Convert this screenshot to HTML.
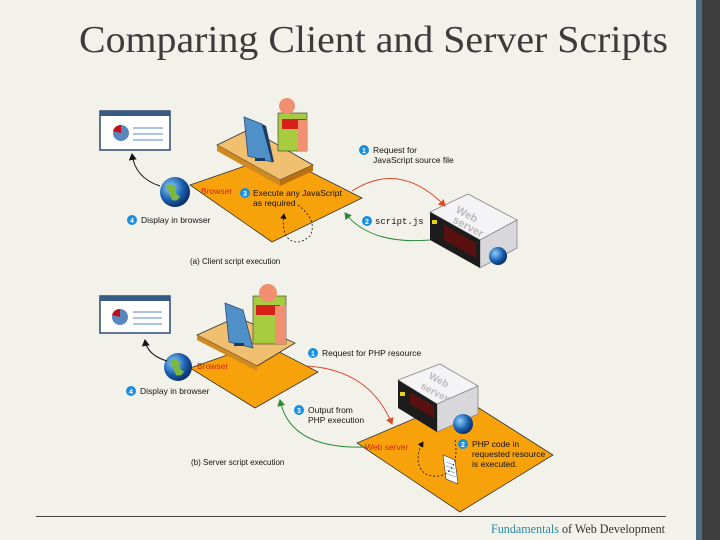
<!DOCTYPE html>
<html><head><meta charset="utf-8"><style>
html,body{margin:0;padding:0;background:#f3f2ea;}
svg{display:block;}
</style></head><body>
<svg width="720" height="540" viewBox="0 0 720 540" xmlns="http://www.w3.org/2000/svg" font-family="Liberation Sans, sans-serif">
<defs>
<marker id="ar" markerWidth="8" markerHeight="8" refX="6" refY="4" orient="auto"><path d="M0,0 L7,4 L0,8 z" fill="#e04a2a"/></marker>
<marker id="ag" markerWidth="8" markerHeight="8" refX="6" refY="4" orient="auto"><path d="M0,0 L7,4 L0,8 z" fill="#2e8a3a"/></marker>
<marker id="ak" markerWidth="8" markerHeight="8" refX="6" refY="4" orient="auto"><path d="M0,0 L7,4 L0,8 z" fill="#111"/></marker>
<radialGradient id="gl" cx="0.35" cy="0.35" r="0.7"><stop offset="0" stop-color="#8fd0ff"/><stop offset="0.6" stop-color="#1a5fb0"/><stop offset="1" stop-color="#0a2a60"/></radialGradient>
</defs>
<rect width="720" height="540" fill="#f3f2ea"/>
<rect x="696" y="0" width="6" height="540" fill="#4b6b80"/>
<rect x="702" y="0" width="18" height="540" fill="#3d3d3d"/>
<text x="79" y="52" font-family="Liberation Serif, serif" font-size="38" fill="#3c3c3c" textLength="589" lengthAdjust="spacingAndGlyphs">Comparing Client and Server Scripts</text>
<line x1="36" y1="516.5" x2="666" y2="516.5" stroke="#444" stroke-width="1"/>
<text x="491" y="533" font-family="Liberation Serif, serif" font-size="12.5" fill="#333" textLength="174" lengthAdjust="spacingAndGlyphs"><tspan fill="#2a8aa8">Fundamentals</tspan> of Web Development</text>

<!-- ===== TOP PANEL ===== -->
<g>
<rect x="100" y="111" width="70" height="39" fill="#fff" stroke="#2c4a70" stroke-width="1.5"/>
<rect x="100" y="111" width="70" height="5" fill="#3a5a86"/>
<circle cx="121" cy="133" r="8" fill="#5a86c0"/><path d="M121,133 L121,125 A8,8 0 0 0 113,131 z" fill="#c0101a"/>
<line x1="133" y1="128" x2="163" y2="128" stroke="#5a86c0"/><line x1="133" y1="134" x2="163" y2="134" stroke="#5a86c0"/><line x1="133" y1="140" x2="163" y2="140" stroke="#5a86c0"/>
<polygon points="190,185 277,155 362,198 272,242" fill="#f7a20a" stroke="#333" stroke-width="0.8"/>
<polygon points="217,145 250,129 313,165 280,180" fill="#f0c070" stroke="#333" stroke-width="0.8"/>
<polygon points="217,145 280,180 280,186 217,151" fill="#d08a20"/>
<polygon points="280,180 313,165 313,171 280,186" fill="#b87010"/>
<rect x="278" y="113" width="29" height="38" fill="#a8cc40" stroke="#333" stroke-width="0.6"/>
<rect x="282" y="119" width="24" height="10" fill="#d8201a"/>
<rect x="298" y="120" width="9" height="31" fill="#f09070"/>
<circle cx="287" cy="106" r="8" fill="#f09070"/>
<polygon points="244,117 262,124 272,162 248,156" fill="#5090c8" stroke="#2a4a70" stroke-width="0.8"/>
<polygon points="262,124 266,126 274,162 272,162" fill="#1e3a60"/>
<rect x="255" y="158" width="10" height="3" fill="#1e3a60"/>
<circle cx="175" cy="192" r="15" fill="url(#gl)"/><path d="M166,186 q6,-4 10,2 q-2,6 4,8 q-2,6 -8,4 z" fill="#7ab840"/>
<!-- server -->
<polygon points="430,212 468,194 517,220 480,240" fill="#f4f4f6" stroke="#888" stroke-width="0.8"/>
<polygon points="480,240 517,220 517,248 480,268" fill="#d8d8dc" stroke="#888" stroke-width="0.8"/>
<polygon points="430,212 480,240 480,268 430,240" fill="#1c1c1c"/>
<polygon points="444,225 476,243 476,258 444,240" fill="#5a1010"/>
<rect x="432" y="220" width="5" height="4" fill="#e8d020"/>
<text x="455" y="212" font-size="11" font-weight="bold" fill="#bbb" transform="rotate(28 455 212)">Web</text>
<text x="452" y="222" font-size="11" font-weight="bold" fill="#bbb" transform="rotate(28 452 222)">server</text>
<circle cx="498" cy="256" r="9" fill="url(#gl)"/>
<!-- arrows -->
<path d="M352,191 Q400,160 445,206" fill="none" stroke="#e04a2a" stroke-width="1" marker-end="url(#ar)"/>
<path d="M430,240 Q370,245 345,213" fill="none" stroke="#2e8a3a" stroke-width="1" marker-end="url(#ag)"/>
<path d="M160,186 Q135,178 132,154" fill="none" stroke="#111" stroke-width="1" marker-end="url(#ak)"/>
<path d="M298,205 Q318,220 310,236 Q296,248 286,236 Q282,228 284,214" fill="none" stroke="#111" stroke-width="0.8" stroke-dasharray="2,2" marker-end="url(#ak)"/>
<g font-size="8.5" fill="#111">
<circle cx="364" cy="150" r="5" fill="#1a8ee0"/><text x="364" y="153" font-size="7" fill="#fff" text-anchor="middle" font-weight="bold">1</text>
<text x="373" y="153">Request for</text><text x="373" y="163">JavaScript source file</text>
<text x="201" y="194" fill="#d8201a">Browser</text>
<circle cx="245" cy="193" r="5" fill="#1a8ee0"/><text x="245" y="196" font-size="7" fill="#fff" text-anchor="middle" font-weight="bold">3</text>
<text x="253" y="196">Execute any JavaScript</text><text x="253" y="206">as required</text>
<circle cx="367" cy="221" r="5" fill="#1a8ee0"/><text x="367" y="224" font-size="7" fill="#fff" text-anchor="middle" font-weight="bold">2</text>
<text x="375" y="224" font-family="Liberation Mono, monospace" font-size="9">script.js</text>
<circle cx="132" cy="220" r="5" fill="#1a8ee0"/><text x="132" y="223" font-size="7" fill="#fff" text-anchor="middle" font-weight="bold">4</text>
<text x="141" y="223">Display in browser</text>
<text x="190" y="264" font-size="8">(a) Client script execution</text>
</g>
</g>

<!-- ===== BOTTOM PANEL ===== -->
<g>
<rect x="100" y="296" width="70" height="37" fill="#fff" stroke="#2c4a70" stroke-width="1.5"/>
<rect x="100" y="296" width="70" height="5" fill="#3a5a86"/>
<circle cx="120" cy="317" r="8" fill="#5a86c0"/><path d="M120,317 L120,309 A8,8 0 0 0 112,315 z" fill="#c0101a"/>
<line x1="133" y1="312" x2="162" y2="312" stroke="#5a86c0"/><line x1="133" y1="318" x2="162" y2="318" stroke="#5a86c0"/><line x1="133" y1="324" x2="162" y2="324" stroke="#5a86c0"/>
<polygon points="190,368 262,343 318,372 255,408" fill="#f7a20a" stroke="#333" stroke-width="0.8"/>
<polygon points="197,335 237,317 295,343 257,366" fill="#f0c070" stroke="#333" stroke-width="0.8"/>
<polygon points="197,335 257,366 257,371 197,340" fill="#d08a20"/>
<rect x="253" y="296" width="33" height="48" fill="#a8cc40" stroke="#333" stroke-width="0.6"/>
<rect x="256" y="305" width="24" height="10" fill="#d8201a"/>
<rect x="275" y="306" width="11" height="38" fill="#f09070"/>
<circle cx="268" cy="293" r="9" fill="#f09070"/>
<polygon points="225,303 243,310 253,348 229,342" fill="#5090c8" stroke="#2a4a70" stroke-width="0.8"/>
<rect x="234" y="343" width="10" height="3" fill="#1e3a60"/>
<circle cx="178" cy="367" r="14" fill="url(#gl)"/><path d="M170,361 q6,-4 10,2 q-2,6 4,8 q-2,6 -8,4 z" fill="#7ab840"/>
<!-- server floor -->
<polygon points="357,443 463,398 553,455 460,512" fill="#f7a20a" stroke="#333" stroke-width="0.8"/>
<polygon points="398,380 440,364 478,386 437,404" fill="#f4f4f6" stroke="#888" stroke-width="0.8"/>
<polygon points="437,404 478,386 478,414 437,432" fill="#d8d8dc" stroke="#888" stroke-width="0.8"/>
<polygon points="398,380 437,404 437,432 398,408" fill="#1c1c1c"/>
<polygon points="410,392 434,406 434,418 410,404" fill="#5a1010"/>
<rect x="400" y="392" width="5" height="4" fill="#e8d020"/>
<text x="428" y="378" font-size="10" font-weight="bold" fill="#bbb" transform="rotate(28 428 378)">Web</text>
<text x="420" y="388" font-size="10" font-weight="bold" fill="#bbb" transform="rotate(28 420 388)">server</text>
<circle cx="463" cy="424" r="10" fill="url(#gl)"/>
<polygon points="443,455 455,460 458,484 446,479" fill="#fff" stroke="#333" stroke-width="0.6"/>
<g stroke="#5a86c0" stroke-width="0.6"><line x1="446" y1="462" x2="454" y2="465"/><line x1="446" y1="466" x2="455" y2="469"/><line x1="447" y1="470" x2="455" y2="473"/><line x1="447" y1="474" x2="456" y2="477"/></g>
<path d="M307,366 Q370,370 392,424" fill="none" stroke="#e04a2a" stroke-width="1" marker-end="url(#ar)"/>
<path d="M367,447 Q290,450 280,400" fill="none" stroke="#2e8a3a" stroke-width="1" marker-end="url(#ag)"/>
<path d="M167,361 Q147,355 145,340" fill="none" stroke="#111" stroke-width="1" marker-end="url(#ak)"/>
<path d="M455,440 Q460,470 440,476 Q420,478 418,460 Q418,450 423,442" fill="none" stroke="#111" stroke-width="0.8" stroke-dasharray="2,2" marker-end="url(#ak)"/>
<g font-size="8.5" fill="#111">
<circle cx="313" cy="353" r="5" fill="#1a8ee0"/><text x="313" y="356" font-size="7" fill="#fff" text-anchor="middle" font-weight="bold">1</text>
<text x="322" y="356">Request for PHP resource</text>
<text x="197" y="369" fill="#d8201a">Browser</text>
<circle cx="131" cy="391" r="5" fill="#1a8ee0"/><text x="131" y="394" font-size="7" fill="#fff" text-anchor="middle" font-weight="bold">4</text>
<text x="140" y="394">Display in browser</text>
<circle cx="299" cy="410" r="5" fill="#1a8ee0"/><text x="299" y="413" font-size="7" fill="#fff" text-anchor="middle" font-weight="bold">3</text>
<text x="308" y="413">Output from</text><text x="308" y="423">PHP execution</text>
<text x="365" y="450" fill="#d8201a">Web server</text>
<circle cx="463" cy="444" r="5" fill="#1a8ee0"/><text x="463" y="447" font-size="7" fill="#fff" text-anchor="middle" font-weight="bold">2</text>
<text x="472" y="447">PHP code in</text><text x="472" y="457">requested resource</text><text x="472" y="467">is executed.</text>
<text x="191" y="465" font-size="8">(b) Server script execution</text>
</g>
</g>
</svg>
</body></html>
